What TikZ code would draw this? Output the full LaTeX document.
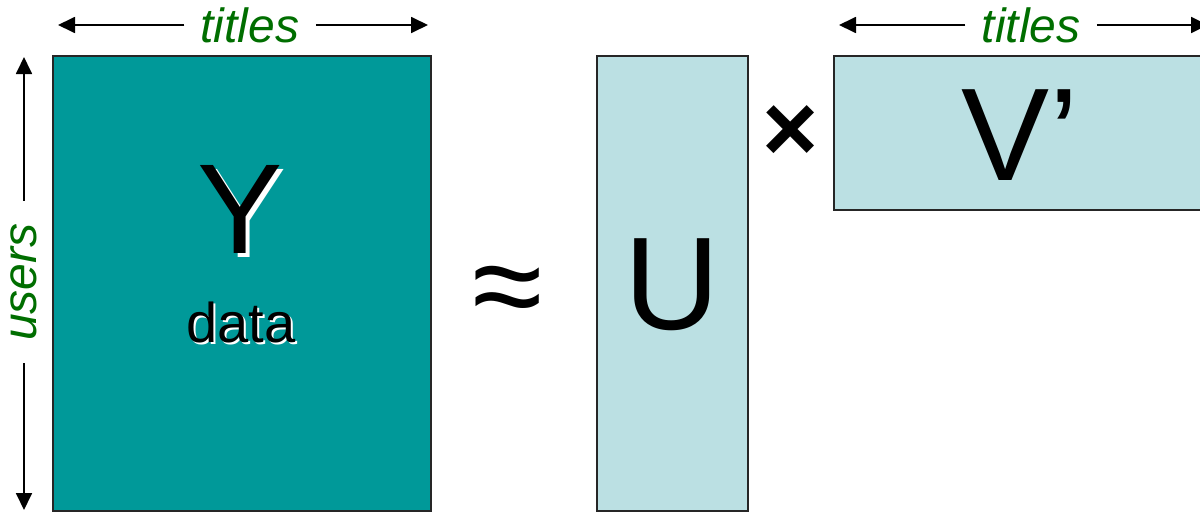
\documentclass[tikz,border=0pt]{standalone}
\usepackage{fontspec}
\setmainfont{Liberation Sans}
\usetikzlibrary{arrows.meta,positioning,calc}
\definecolor{yTeal}{RGB}{0,153,153}
\definecolor{uvLight}{RGB}{187,224,227}
\definecolor{lblGreen}{RGB}{0,110,0}

\tikzset{
  matbox/.style={draw=black!85, line width=0.7pt},
  dimarrow/.style={-{Triangle[length=8.5pt,width=8pt]}, line width=0.9pt},
  dimlabel/.style={text=lblGreen, font=\fontsize{24}{28}\selectfont\itshape,
    inner xsep=8pt, inner ysep=0pt},
  bigletter/.style={font=\fontsize{66}{70}\selectfont, inner sep=0pt},
  shadowtxt/.style={text=white, inner sep=0pt},
}

\begin{document}
\begin{tikzpicture}[x=0.5pt, y=-0.5pt]
    \useasboundingbox (0,0) rectangle (1200,514);
    \clip (0,0) rectangle (1200,514);

    % the three matrices
    \draw[matbox, fill=yTeal] (53,56) rectangle (431,511);
    \draw[matbox, fill=uvLight] (597,56) rectangle (748,511);
    \draw[matbox, fill=uvLight] (834,56) rectangle (1208,210);

    % ends of the dimension arrows
    \coordinate (ytL) at (58,25);
    \coordinate (ytR) at (428,25);
    \coordinate (yuT) at (24,57);
    \coordinate (yuB) at (24,510);
    \coordinate (vtL) at (839,25);
    \coordinate (vtR) at (1208,25);

    % dimension labels
    \node[dimlabel] (ytitles) at (250,25) {titles};
    \node[dimlabel] (vtitles) at (1031,25) {titles};
    \node[dimlabel, rotate=90, inner xsep=11pt] (yusers) at (24,282) {users};

    \draw[dimarrow] (ytitles.west) -- (ytL);
    \draw[dimarrow] (ytitles.east) -- (ytR);
    \draw[dimarrow] (vtitles.west) -- (vtL);
    \draw[dimarrow] (vtitles.east) -- (vtR);
    \draw[dimarrow] (yusers.east) -- (yuT);
    \draw[dimarrow] (yusers.west) -- (yuB);

    % Y with its white shadow
    \node[bigletter, shadowtxt, font=\fontsize{64}{68}\selectfont] (Yshadow) at (244,213) {Y};
    \node[bigletter, font=\fontsize{64}{68}\selectfont] (Y) at (240,209) {Y};
    \node[shadowtxt, font=\fontsize{28}{32}\selectfont] (datashadow) at (243,324) {data};
    \node[inner sep=0pt, font=\fontsize{28}{32}\selectfont] (data) at (241,322) {data};

    % operators
    \node[inner sep=0pt, font=\fontsize{64}{68}\selectfont] (approx) at (508,298) {≈};
    \node[inner sep=0pt, font=\fontsize{48}{52}\selectfont\bfseries] (times) at (791,134) {×};

    % factor letters
    \node[bigletter] (U) at (672,285) {U};
    \node[bigletter] (V) at (1020,135) {V’};
\end{tikzpicture}
\end{document}
